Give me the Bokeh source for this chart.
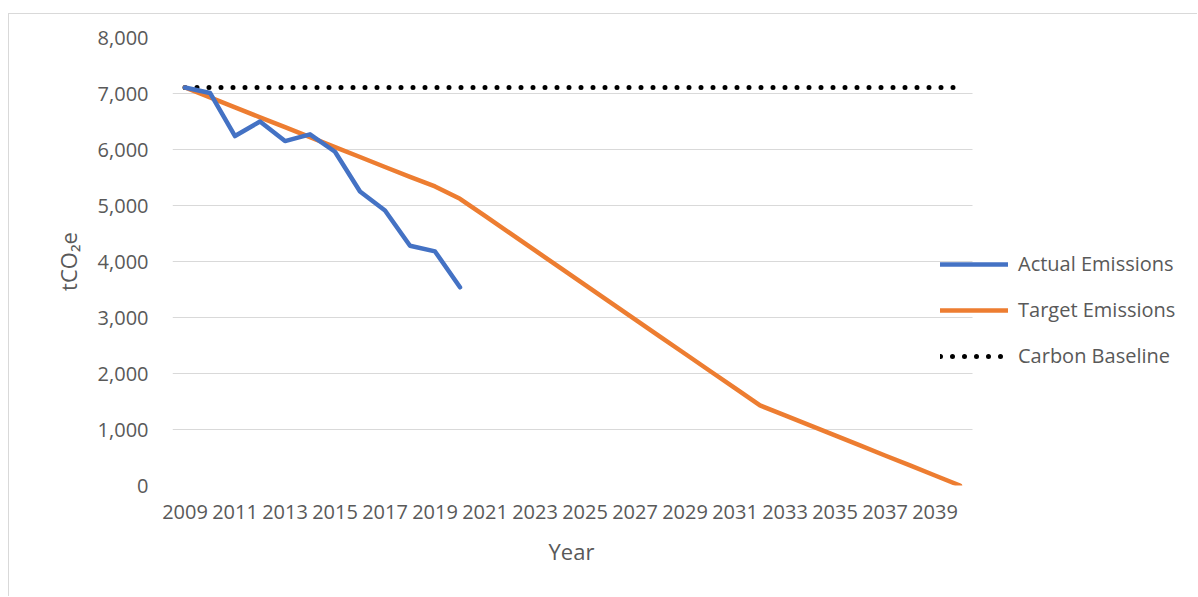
from bokeh.plotting import figure
from bokeh.models import Range1d, FixedTicker, NumeralTickFormatter, Legend, LegendItem, Title
from bokeh.embed import file_html
from bokeh.resources import INLINE

# Reporting years
years = [2009, 2010, 2011, 2012, 2013, 2014, 2015, 2016, 2017, 2018, 2019,
         2020, 2021, 2022, 2023, 2024, 2025, 2026, 2027, 2028, 2029, 2030,
         2031, 2032, 2033, 2034, 2035, 2036, 2037, 2038, 2039, 2040]

# Measured emissions (tCO2e), 2009-2020
actual_years = [2009, 2010, 2011, 2012, 2013, 2014, 2015, 2016, 2017, 2018, 2019, 2020]
actual = [7107, 7010, 6240, 6500, 6150, 6270, 5960, 5250, 4910, 4280, 4180, 3540]

# Reduction pathway to net zero by 2040 (tCO2e)
target = [7107, 6930, 6752, 6575, 6398, 6220, 6043, 5866, 5688, 5511, 5340,
          5120, 4813, 4505, 4198, 3890, 3583, 3275, 2968, 2660, 2353, 2045,
          1738, 1430, 1251, 1073, 894, 715, 536, 358, 179, 0]

# 2009 carbon baseline (tCO2e)
baseline_value = 7107
baseline = [baseline_value for _ in years]

x_ticks = [2009, 2011, 2013, 2015, 2017, 2019, 2021, 2023, 2025, 2027,
           2029, 2031, 2033, 2035, 2037, 2039]
y_ticks = [0, 1000, 2000, 3000, 4000, 5000, 6000, 7000, 8000]

BLUE = "#4472C4"
ORANGE = "#ED7D31"
TEXT = "#595959"
GRID = "#D9D9D9"
FONT = "Open Sans"

# Category band of half a year either side of the first and last year;
# the frame continues to the right to leave room for the legend.
x_start, x_end = years[0] - 0.5, years[-1] + 0.5
x_view_end = x_start + (1190 - 172) / 25.0

p = figure(
    width=1189, height=583,
    x_range=Range1d(x_start, x_view_end), y_range=Range1d(0, 8000),
    output_backend="svg", toolbar_location=None,
    min_border_left=163, min_border_right=8,
    min_border_top=23, min_border_bottom=112,
    outline_line_color=None, background_fill_color="white",
    border_fill_color="white",
)
p.margin = (13, 0, 0, 8)
p.styles = {"border-left": "1px solid #D9D9D9", "border-top": "1px solid #D9D9D9"}

p.xgrid.grid_line_color = None
p.ygrid.grid_line_color = GRID
p.ygrid.grid_line_width = 1
p.ygrid.ticker = FixedTicker(ticks=y_ticks)
p.ygrid.cross_bounds = (x_start, x_end)

p.xaxis.ticker = FixedTicker(ticks=x_ticks)
p.xaxis.bounds = (x_start, x_end)
p.yaxis.ticker = FixedTicker(ticks=y_ticks)
p.yaxis.formatter = NumeralTickFormatter(format="0,0")

for ax in (p.xaxis[0], p.yaxis[0]):
    ax.axis_line_color = None
    ax.major_tick_line_color = None
    ax.minor_tick_line_color = None
    ax.major_label_text_font = FONT
    ax.major_label_text_font_size = "20px"
    ax.major_label_text_color = TEXT
    ax.axis_label_text_font = FONT
    ax.axis_label_text_font_size = "22px"
    ax.axis_label_text_font_style = "normal"
    ax.axis_label_text_color = TEXT

p.xaxis.major_label_standoff = 13
p.yaxis.major_label_standoff = 18
p.yaxis.axis_label = "tCO₂e"
p.yaxis.axis_label_standoff = 12

# x-axis title, centred under the year band rather than the whole frame
p.add_layout(Title(text="Year", align="left", offset=376, standoff=24,
                   text_font=FONT, text_font_size="22px",
                   text_font_style="normal", text_color=TEXT), "below")

r_base = p.line(years, baseline, line_color="black", line_width=5,
                line_dash="0 12", line_cap="round")
r_target = p.line(years, target, line_color=ORANGE, line_width=4.5,
                  line_cap="round", line_join="round")
r_actual = p.line(actual_years, actual, line_color=BLUE, line_width=4.5,
                  line_cap="round", line_join="round")

legend = Legend(
    items=[
        LegendItem(label="Actual Emissions", renderers=[r_actual]),
        LegendItem(label="Target Emissions", renderers=[r_target]),
        LegendItem(label="Carbon Baseline", renderers=[r_base]),
    ],
    location=(768, 116),
    orientation="vertical",
    glyph_width=68, glyph_height=26,
    label_height=26, label_standoff=10, spacing=19,
    padding=0, margin=0,
    border_line_color=None, background_fill_alpha=0,
    label_text_font=FONT, label_text_font_size="20px", label_text_color=TEXT,
)
p.add_layout(legend, "center")

open("out.html", "w").write(file_html(p, INLINE))
